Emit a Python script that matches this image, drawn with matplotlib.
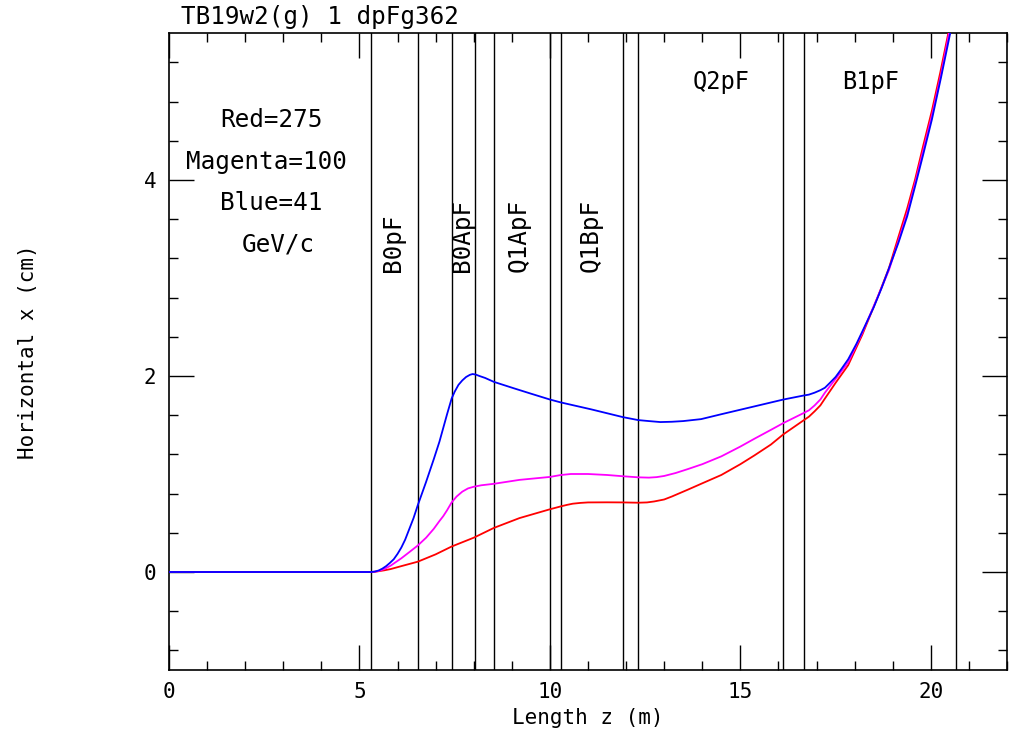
import numpy as np
import matplotlib.pyplot as plt
from matplotlib.ticker import MultipleLocator

# beam orbit readings, z in m, x in cm
z_blue = [0, 5.3, 5.4, 5.5, 5.6, 5.7, 5.8, 5.9, 6.0, 6.1, 6.2, 6.3, 6.42, 6.53, 6.75, 6.95,
          7.1, 7.2, 7.3, 7.42, 7.5, 7.6, 7.7, 7.8, 7.9, 7.97, 8.05, 8.15, 8.3,
          8.53, 9.05, 9.5, 10.0, 10.29, 11.08, 11.92, 12.32, 12.6, 12.9, 13.2, 13.5, 13.97, 14.5,
          15.37, 16.13, 16.65, 16.8, 16.95, 17.1, 17.22, 17.35, 17.5, 17.65, 17.83, 18.05,
          18.27, 18.5, 18.71, 18.95, 19.15, 19.38, 19.59, 19.8, 20.03, 20.27, 20.51, 20.6]
x_blue = [0, 0, 0.004, 0.015, 0.034, 0.06, 0.093, 0.13, 0.185, 0.25, 0.33, 0.43, 0.55, 0.68, 0.92, 1.15,
          1.33, 1.47, 1.61, 1.77, 1.84, 1.91, 1.955, 1.99, 2.012, 2.02, 2.015, 2.0, 1.98,
          1.94, 1.875, 1.82, 1.76, 1.73, 1.66, 1.58, 1.55, 1.54, 1.53, 1.533, 1.54, 1.56, 1.61,
          1.69, 1.76, 1.80, 1.81, 1.83, 1.855, 1.88, 1.93, 1.99, 2.07, 2.17, 2.33,
          2.51, 2.70, 2.90, 3.15, 3.36, 3.63, 3.94, 4.26, 4.62, 5.05, 5.5, 5.68]

z_mag = [0, 5.3, 5.4, 5.5, 5.65, 5.82, 6.1, 6.3, 6.53, 6.75, 6.95, 7.1, 7.2, 7.3, 7.42, 7.55,
         7.7, 7.85, 8.0, 8.2, 8.53, 9.2, 10.0, 10.29,
         10.55, 11.0, 11.5, 11.92, 12.32, 12.6, 12.8, 13.0, 13.3, 13.62, 14.0, 14.5, 15.0, 15.37,
         15.8, 16.13, 16.65, 16.8, 16.95, 17.1, 17.22, 17.5, 17.83, 18.2, 18.62, 18.9, 19.15,
         19.38, 19.59, 19.8, 20.03, 20.27, 20.48, 20.6]
x_mag = [0, 0, 0.003, 0.01, 0.03, 0.065, 0.14, 0.2, 0.27, 0.35, 0.44, 0.52, 0.57, 0.63, 0.71, 0.77,
         0.82, 0.853, 0.87, 0.885, 0.90, 0.94, 0.97, 0.99,
         1.0, 1.0, 0.99, 0.977, 0.966, 0.963, 0.968, 0.98, 1.01, 1.05, 1.10, 1.18, 1.28, 1.36,
         1.45, 1.52, 1.62, 1.65, 1.70, 1.76, 1.83, 1.97, 2.14, 2.44, 2.82, 3.08, 3.38,
         3.66, 3.97, 4.3, 4.66, 5.08, 5.5, 5.74]

z_red = [0, 5.3, 5.4, 5.5, 5.65, 5.82, 6.1, 6.53, 7.0, 7.42, 8.0, 8.53, 9.2, 10.0, 10.29, 10.45,
         10.6, 10.8, 11.0, 11.5, 11.92, 12.32, 12.55, 12.74, 13.0, 13.2, 13.62, 14.0, 14.5, 15.0,
         15.37, 15.8, 16.13, 16.65, 16.8, 16.95, 17.1, 17.22, 17.5, 17.83, 18.2, 18.62, 18.9,
         19.15, 19.38, 19.59, 19.8, 20.03, 20.25, 20.46, 20.6]
x_red = [0, 0, 0.002, 0.008, 0.017, 0.03, 0.06, 0.105, 0.18, 0.26, 0.35, 0.45, 0.55, 0.64, 0.67, 0.685,
         0.697, 0.705, 0.71, 0.711, 0.71, 0.707, 0.71, 0.72, 0.74, 0.77, 0.84, 0.905, 0.99, 1.1,
         1.19, 1.3, 1.405, 1.545, 1.585, 1.64, 1.70, 1.77, 1.93, 2.11, 2.42, 2.82, 3.1,
         3.42, 3.71, 4.01, 4.35, 4.71, 5.1, 5.5, 5.78]

# element edges
edges = [5.31, 6.53, 7.42, 8.03, 8.535, 10.0, 10.30, 11.91, 12.32, 16.13, 16.66, 20.66]

# vertical element names
vnames = ['B0pF', 'B0ApF', 'Q1ApF', 'Q1BpF']
vname_z = [5.89, 7.70, 9.18, 11.08]
# horizontal element names
hnames = ['Q2pF', 'B1pF']
hname_z = [14.5, 18.41]

notes = ['Red=275', 'Magenta=100', 'Blue=41', 'GeV/c']
note_z = [1.34, 0.45, 1.34, 1.92]
note_x = [4.61, 4.18, 3.77, 3.34]

mono = 'DejaVu Sans Mono'
plt.rcParams['font.family'] = mono

fig = plt.figure(figsize=(10.15, 7.37), dpi=100)
ax = fig.add_axes([169/1015, 67/737, 838/1015, 637/737])

for e in edges:
    ax.axvline(e, color='k', lw=1.0, zorder=1)

ax.plot(z_red, x_red, color='#ff0000', lw=1.3, zorder=3)
ax.plot(z_mag, x_mag, color='#ff00ff', lw=1.3, zorder=3)
ax.plot(z_blue, x_blue, color='#0000ff', lw=1.3, zorder=4)

for n, z in zip(vnames, vname_z):
    ax.text(z, 3.06, n, rotation=90, ha='center', va='bottom', fontsize=17.5)
for n, z in zip(hnames, hname_z):
    ax.text(z, 5.0, n, ha='center', va='center', fontsize=17)
for n, z, x in zip(notes, note_z, note_x):
    ax.text(z, x, n, ha='left', va='center', fontsize=17.5)

ax.set_xlim(0, 22)
ax.set_ylim(-1, 5.5)
ax.xaxis.set_major_locator(MultipleLocator(5))
ax.xaxis.set_minor_locator(MultipleLocator(1))
ax.yaxis.set_major_locator(MultipleLocator(2))
ax.yaxis.set_minor_locator(MultipleLocator(0.4))
ax.tick_params(which='both', direction='in', top=True, right=True, width=1.0)
ax.tick_params(which='major', length=18, labelsize=15, pad=9)
ax.tick_params(which='minor', length=6.5)
for s in ax.spines.values():
    s.set_linewidth(1.2)

ax.set_xlabel('Length z (m)', fontsize=15, labelpad=4)
ax.set_ylabel('Horizontal x (cm)', fontsize=15, labelpad=76)
fig.text(181/1015, 1 - 17/737, 'TB19w2(g) 1 dpFg362', ha='left', va='center', fontsize=17.5)

fig.savefig('out.png', dpi=100)
